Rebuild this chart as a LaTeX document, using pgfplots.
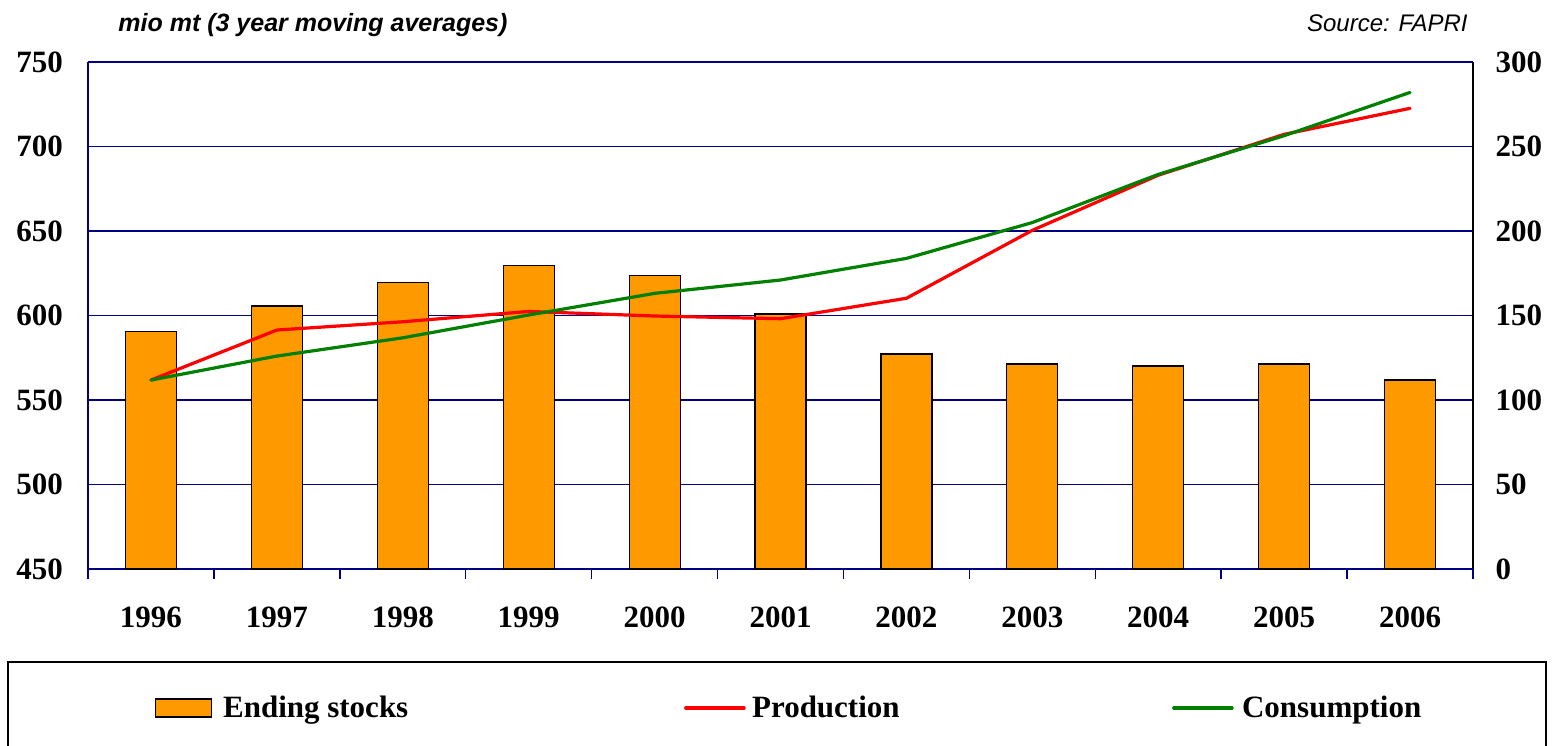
\documentclass[border=0pt]{standalone}
\usepackage{pgfplots}
\usepackage{pgfplotstable}
\pgfplotsset{compat=1.18}
\usepackage{fontspec}
\setmainfont{Liberation Serif}
\newfontfamily\lab{Liberation Serif}
\newfontfamily\arial{Liberation Sans}
\definecolor{navyc}{RGB}{0,0,128}
\definecolor{barorange}{RGB}{255,153,0}
\definecolor{prodred}{RGB}{255,0,0}
\definecolor{consgreen}{RGB}{0,128,0}

\pgfplotstableread{
x stocks prod cons
0 140.4 561.8 561.8
1 155.6 591.4 576.0
2 169.6 596.3 586.8
3 179.5 602.4 600.3
4 173.5 599.7 613.1
5 150.9 598.1 621.0
6 127.2 610.2 633.8
7 121.3 650.4 655.0
8 120.1 683.0 683.5
9 121.3 707.2 706.4
10 111.8 722.6 732.0
}\data

\begin{document}
\begin{tikzpicture}
\useasboundingbox (0,0) rectangle (778pt,372.5pt);
% bars: right axis
\begin{axis}[
  at={(44pt,88pt)}, anchor=south west,
  scale only axis, width=692.5pt, height=253.5pt,
  xmin=-0.5, xmax=10.5, ymin=0, ymax=300,
  axis x line=bottom, axis y line=right,
  axis line style={-},
  x axis line style={navyc, line width=1pt},
  y axis line style={black, line width=1pt},
  xtick={0,...,10},
  xticklabels={1996,1997,1998,1999,2000,2001,2002,2003,2004,2005,2006},
  minor xtick={-0.5,0.5,...,10.5},
  major tick length=0pt,
  minor tick length=5pt,
  xtick align=outside,
  minor x tick style={navyc, line width=0.75pt},
  ytick={0,50,...,300},
  ymajorgrids, grid style={navyc, line width=0.75pt},
  ticklabel style={font=\lab\bfseries\fontsize{15.5}{18}\selectfont},
  /pgf/number format/assume math mode=true,
  yticklabel style={xshift=7.8pt},
  xticklabel style={yshift=-15.5pt},
  ybar, bar width=25.5pt,
]
\addplot[fill=barorange, draw=black, line width=0.6pt] table[x=x,y=stocks]{\data};
\end{axis}
% lines: left axis
\begin{axis}[
  at={(44pt,88pt)}, anchor=south west,
  scale only axis, width=692.5pt, height=253.5pt,
  xmin=-0.5, xmax=10.5, ymin=450, ymax=750,
  axis x line=top, axis y line=left,
  axis line style={-},
  x axis line style={navyc, line width=1pt},
  y axis line style={navyc, line width=1pt},
  xtick=\empty,
  ytick={450,500,...,750},
  major tick length=0pt,
  ticklabel style={font=\lab\bfseries\fontsize{15.5}{18}\selectfont},
  /pgf/number format/assume math mode=true,
  yticklabel style={xshift=-9pt},
  legend columns=3,
  legend style={at={(0.0434,-0.274)}, anchor=west, draw=none, fill=none,
    font=\lab\bfseries\fontsize{15.5}{18}\selectfont,
    nodes={inner sep=0pt},
    /tikz/every odd column/.style={column sep=0pt}},
]
\addlegendimage{legend image code/.code={\draw[fill=barorange,draw=black,line width=0.6pt] (0pt,-4.5pt) rectangle (28pt,4.5pt); \path[draw=none,fill=none] (0pt,0pt) -- (34pt,0pt);}}
\addlegendentry{\makebox[230.5pt][l]{Ending stocks}}
\addplot[prodred, line width=1.6pt, line join=round, line cap=round, no marks,
  legend image code/.code={\draw[prodred,line width=1.6pt,line cap=round] (0.8pt,0pt) -- (30pt,0pt); \path[draw=none,fill=none] (0pt,0pt) -- (34pt,0pt);}]
  table[x=x,y=prod]{\data};
\addlegendentry{\makebox[210pt][l]{Production}}
\addplot[consgreen, line width=1.6pt, line join=round, line cap=round, no marks,
  legend image code/.code={\draw[consgreen,line width=1.6pt,line cap=round] (0.8pt,0pt) -- (30pt,0pt); \path[draw=none,fill=none] (0pt,0pt) -- (35pt,0pt);}]
  table[x=x,y=cons]{\data};
\addlegendentry{Consumption}
\end{axis}
\draw[black, line width=1pt] (4pt,-10pt) rectangle (773pt,41.5pt);
\node[anchor=base west, inner sep=0pt, font=\arial\bfseries\itshape\fontsize{12.5}{14}\selectfont] at (59pt,356.5pt) {mio mt (3 year moving averages)};
\node[anchor=base east, inner sep=0pt, font=\arial\itshape\fontsize{12}{14}\selectfont] at (734pt,356.5pt) {Source: FAPRI};
\end{tikzpicture}
\end{document}
